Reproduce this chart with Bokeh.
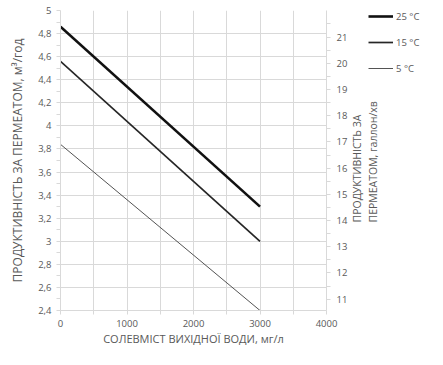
import math
from bokeh.plotting import figure
from bokeh.layouts import row
from bokeh.models import (Range1d, LinearAxis, FixedTicker, CustomJSTickFormatter,
                          Legend, LegendItem, Label)
from bokeh.embed import file_html
from bokeh.resources import INLINE

# ---- data ----
salinity = [0, 3000]                 # мг/л
flow_25 = [4.86, 3.30]               # м³/год
flow_15 = [4.56, 3.00]
flow_5 = [3.84, 2.40]
series_labels = ["25 °C", "15 °C", "5 °C"]

x_major = [0, 1000, 2000, 3000, 4000]
x_minor = [500, 1500, 2500, 3500]
y_major = [2.4, 2.6, 2.8, 3.0, 3.2, 3.4, 3.6, 3.8, 4.0, 4.2, 4.4, 4.6, 4.8, 5.0]
y_minor = [2.5, 2.7, 2.9, 3.1, 3.3, 3.5, 3.7, 3.9, 4.1, 4.3, 4.5, 4.7, 4.9]
gpm_major = [11, 12, 13, 14, 15, 16, 17, 18, 19, 20, 21]
gpm_minor = [10.5, 11.5, 12.5, 13.5, 14.5, 15.5, 16.5, 17.5, 18.5, 19.5, 20.5, 21.5]
M3H_TO_GPM = 4.40287

FONT = "Open Sans"
TXT = "#595959"
GRID = "#d9d9d9"
LINE_STYLES = [("#111111", 2.6), ("#262626", 1.7), ("#404040", 0.9)]

p = figure(width=350, height=349, output_backend="svg", toolbar_location=None,
           x_range=Range1d(0, 4000), y_range=Range1d(2.4, 5.0),
           min_border_left=60, min_border_right=24, min_border_top=10,
           min_border_bottom=39)
p.outline_line_color = None
p.background_fill_color = "white"

p.extra_y_ranges = {"gpm": Range1d(2.4 * M3H_TO_GPM, 5.0 * M3H_TO_GPM)}

def style_axis(ax):
    ax.axis_line_color = GRID
    ax.major_tick_line_color = GRID
    ax.minor_tick_line_color = GRID
    ax.major_tick_out = 4
    ax.major_tick_in = 0
    ax.minor_tick_out = 4
    ax.minor_tick_in = 0
    ax.major_label_text_font = FONT
    ax.major_label_text_font_size = "9.5px"
    ax.major_label_text_color = TXT
    ax.axis_label_text_font = FONT
    ax.axis_label_text_font_style = "normal"
    ax.axis_label_text_color = TXT

xa = p.xaxis[0]
style_axis(xa)
xa.ticker = FixedTicker(ticks=x_major, minor_ticks=x_minor)
xa.axis_label = "СОЛЕВМІСТ ВИХІДНОЇ ВОДИ, мг/л"
xa.axis_label_text_font_size = "11px"
xa.major_label_standoff = 5
xa.axis_label_standoff = 1

ya = p.yaxis[0]
style_axis(ya)
ya.ticker = FixedTicker(ticks=y_major, minor_ticks=y_minor)
ya.formatter = CustomJSTickFormatter(
    code="return (Math.round(tick*10)/10).toString().replace('.', ',');")
ya.axis_label = "ПРОДУКТИВНІСТЬ ЗА ПЕРМЕАТОМ, м³/год"
ya.axis_label_text_font_size = "12px"
ya.major_label_standoff = 5
ya.axis_label_standoff = 9

ra = LinearAxis(y_range_name="gpm",
                ticker=FixedTicker(ticks=gpm_major, minor_ticks=gpm_minor))
style_axis(ra)
ra.major_label_standoff = 6
p.add_layout(ra, "right")

p.xgrid.ticker = FixedTicker(ticks=x_major + x_minor)
p.xgrid.grid_line_color = GRID
p.ygrid.ticker = FixedTicker(ticks=y_major)
p.ygrid.grid_line_color = GRID

series = [flow_25, flow_15, flow_5]
for ys, (c, w) in zip(series, LINE_STYLES):
    p.line(salinity, ys, line_color=c, line_width=w)

# ---- side strip: legend and right-axis title ----
p2 = figure(width=77, height=349, output_backend="svg", toolbar_location=None,
            x_axis_location=None, y_axis_location=None,
            x_range=Range1d(0, 1), y_range=Range1d(0, 1),
            min_border_left=0, min_border_right=0, min_border_top=10,
            min_border_bottom=39)
p2.outline_line_color = None
p2.xgrid.visible = False
p2.ygrid.visible = False

items = []
for lab, ys, (c, w) in zip(series_labels, series, LINE_STYLES):
    # same series, drawn outside this strip's ranges (clipped), used as legend keys
    r = p2.line(salinity, ys, line_color=c, line_width=w)
    items.append(LegendItem(label=lab, renderers=[r]))

legend = Legend(items=items, location=(18, 235), orientation="vertical",
                border_line_color=None, background_fill_alpha=0,
                padding=0, margin=0, spacing=12,
                glyph_width=25, glyph_height=14, label_height=14,
                label_standoff=3,
                label_text_font=FONT, label_text_font_size="9.5px",
                label_text_color=TXT)
p2.add_layout(legend, "center")

p2.add_layout(Label(x=14.5, y=88, x_units="screen", y_units="screen",
                    text="ПРОДУКТИВНІСТЬ ЗА\nПЕРМЕАТОМ, галлон/хв",
                    angle=math.pi / 2, text_align="left", text_baseline="middle",
                    text_font=FONT, text_font_size="10.5px", text_color=TXT))

layout = row(p, p2)
open("out.html", "w").write(file_html(layout, INLINE))
